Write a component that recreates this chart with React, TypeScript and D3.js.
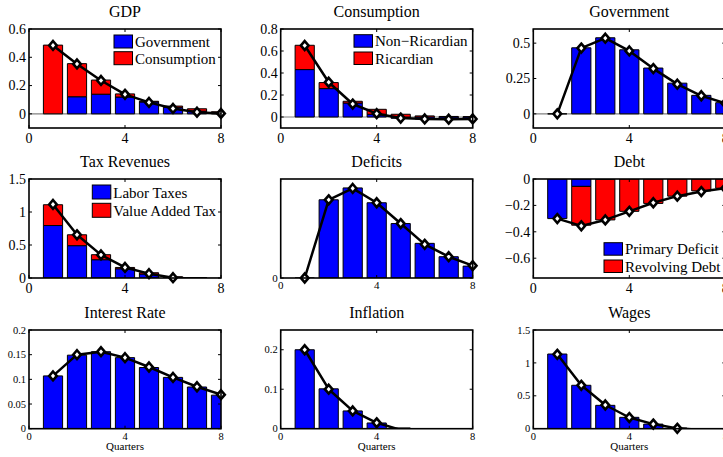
import React from "react";
import * as d3 from "d3";

// Impulse responses over eight quarters
const quarters = [1, 2, 3, 4, 5, 6, 7, 8];
const xTickValues = [0, 4, 8];

const gdpGovernment = [0, 0.121, 0.139, 0.119, 0.084, 0.046, 0.019, 0.006];
const gdpConsumption = [0.486, 0.234, 0.1, 0.022, 0.005, 0.009, 0.017, 0.009];
const gdpTotal = [0.484, 0.353, 0.236, 0.138, 0.081, 0.038, 0.012, 0.003];

const consNonRicardian = [0.431, 0.258, 0.127, 0.025, -0.012, -0.018, -0.02, -0.018];
const consRicardian = [0.221, 0.055, 0.016, 0.045, 0.025, 0.01, 0.005, 0.003];
const consTotal = [0.65, 0.316, 0.118, 0.03, -0.01, -0.018, -0.02, -0.018];

const govSpending = [0, 0.467, 0.538, 0.453, 0.324, 0.217, 0.131, 0.079];
const govTotal = [0, 0.465, 0.535, 0.445, 0.32, 0.21, 0.128, 0.075];

const taxLabor = [0.795, 0.49, 0.277, 0.14, 0.06, 0.01, 0.003, 0];
const taxVat = [0.315, 0.165, 0.076, 0.02, 0.02, 0.008, 0.002, 0];
const taxTotal = [1.115, 0.655, 0.35, 0.16, 0.066, 0.004, -0.012, -0.015];

const deficitBars = [0, 0.79, 0.91, 0.76, 0.55, 0.35, 0.215, 0.12];
const deficitTotal = [0, 0.79, 0.905, 0.76, 0.55, 0.34, 0.215, 0.125];

const debtPrimary = [-0.3, -0.056, -0.003, 0, 0, 0, 0, 0];
const debtRevolving = [0, -0.294, -0.307, -0.245, -0.185, -0.13, -0.09, -0.07];
const debtTotal = [-0.3, -0.355, -0.31, -0.245, -0.18, -0.13, -0.095, -0.07];

const rateBars = [0.107, 0.149, 0.156, 0.144, 0.124, 0.104, 0.0845, 0.068];
const rateTotal = [0.107, 0.15, 0.156, 0.144, 0.125, 0.104, 0.085, 0.069];

const inflationBars = [0.2, 0.101, 0.045, 0.0145, 0.002, 0, 0, 0];
const inflationTotal = [0.2, 0.1, 0.045, 0.015, -0.003, -0.004, -0.004, -0.003];

const wageBars = [1.135, 0.66, 0.355, 0.173, 0.07, 0.01, 0, 0];
const wageTotal = [1.13, 0.66, 0.36, 0.17, 0.07, 0.005, -0.02, -0.02];

const BLUE = "#0000ff";
const RED = "#ff0000";
const FONT = "'Liberation Serif', 'Times New Roman', Times, serif";

const COLS = [29, 280.7, 533.3];
const ROWS = [
  { top: 29, bottom: 128 },
  { top: 179, bottom: 278 },
  { top: 330, bottom: 428.7 },
];
const AX_W = 192;

type Series = { values: number[]; color: string; label?: string };
type PanelCfg = {
  title: string;
  col: number;
  row: number;
  domain: [number, number];
  yTicks: number[];
  yLabels: string[];
  series: Series[];
  line: number[];
  tickSize: number;
  xLabel?: string;
  legend?: { x: number; y: number; dy: number; h: number };
};

const fmtMinus = (s: string) => s.replace("-", "\u2212");

const panels: PanelCfg[] = [
  {
    title: "GDP",
    col: 0,
    row: 0,
    domain: [-0.1, 0.6],
    yTicks: [0, 0.2, 0.4, 0.6],
    yLabels: ["0", "0.2", "0.4", "0.6"],
    series: [
      { values: gdpGovernment, color: BLUE, label: "Government" },
      { values: gdpConsumption, color: RED, label: "Consumption" },
    ],
    line: gdpTotal,
    tickSize: 14,
    legend: { x: 114, y: 35, dy: 16.7, h: 13 },
  },
  {
    title: "Consumption",
    col: 1,
    row: 0,
    domain: [-0.1, 0.8],
    yTicks: [0, 0.2, 0.4, 0.6, 0.8],
    yLabels: ["0", "0.2", "0.4", "0.6", "0.8"],
    series: [
      { values: consNonRicardian, color: BLUE, label: "Non\u2212Ricardian" },
      { values: consRicardian, color: RED, label: "Ricardian" },
    ],
    line: consTotal,
    tickSize: 14,
    legend: { x: 354, y: 34.7, dy: 17.3, h: 12.5 },
  },
  {
    title: "Government",
    col: 2,
    row: 0,
    domain: [-0.1, 0.6],
    yTicks: [0, 0.25, 0.5],
    yLabels: ["0", "0.25", "0.5"],
    series: [{ values: govSpending, color: BLUE }],
    line: govTotal,
    tickSize: 14,
  },
  {
    title: "Tax Revenues",
    col: 0,
    row: 1,
    domain: [0, 1.5],
    yTicks: [0, 0.5, 1, 1.5],
    yLabels: ["0", "0.5", "1", "1.5"],
    series: [
      { values: taxLabor, color: BLUE, label: "Labor Taxes" },
      { values: taxVat, color: RED, label: "Value Added Tax" },
    ],
    line: taxTotal,
    tickSize: 14,
    legend: { x: 92.3, y: 185, dy: 18.3, h: 14 },
  },
  {
    title: "Deficits",
    col: 1,
    row: 1,
    domain: [0, 1],
    yTicks: [0],
    yLabels: ["0"],
    series: [{ values: deficitBars, color: BLUE }],
    line: deficitTotal,
    tickSize: 11,
  },
  {
    title: "Debt",
    col: 2,
    row: 1,
    domain: [-0.75, 0],
    yTicks: [0, -0.2, -0.4, -0.6],
    yLabels: ["0", "-0.2", "-0.4", "-0.6"],
    series: [
      { values: debtPrimary, color: BLUE, label: "Primary Deficit" },
      { values: debtRevolving, color: RED, label: "Revolving Debt" },
    ],
    line: debtTotal,
    tickSize: 14,
    legend: { x: 604, y: 242.7, dy: 17.3, h: 12.5 },
  },
  {
    title: "Interest Rate",
    col: 0,
    row: 2,
    domain: [0, 0.2],
    yTicks: [0, 0.05, 0.1, 0.15, 0.2],
    yLabels: ["0", "0.05", "0.1", "0.15", "0.2"],
    series: [{ values: rateBars, color: BLUE }],
    line: rateTotal,
    tickSize: 10.5,
    xLabel: "Quarters",
  },
  {
    title: "Inflation",
    col: 1,
    row: 2,
    domain: [0, 0.25],
    yTicks: [0, 0.1, 0.2],
    yLabels: ["0", "0.1", "0.2"],
    series: [{ values: inflationBars, color: BLUE }],
    line: inflationTotal,
    tickSize: 10.5,
    xLabel: "Quarters",
  },
  {
    title: "Wages",
    col: 2,
    row: 2,
    domain: [0, 1.5],
    yTicks: [0, 0.5, 1, 1.5],
    yLabels: ["0", "0.5", "1", "1.5"],
    series: [{ values: wageBars, color: BLUE }],
    line: wageTotal,
    tickSize: 10.5,
    xLabel: "Quarters",
  },
];

function diamond(cx: number, cy: number, rx: number, ry: number) {
  return `M${cx},${cy - ry}L${cx + rx},${cy}L${cx},${cy + ry}L${cx - rx},${cy}Z`;
}

function Panel({ cfg, idx }: { cfg: PanelCfg; idx: number }) {
  const left = COLS[cfg.col];
  const { top, bottom } = ROWS[cfg.row];
  const right = left + AX_W;
  const x = d3.scaleLinear().domain([0, 8]).range([left, right]);
  const y = d3.scaleLinear().domain(cfg.domain).range([bottom, top]);

  const keys = cfg.series.map((_, j) => "s" + j);
  const rows = quarters.map((q, i) => {
    const r: Record<string, number> = { q };
    cfg.series.forEach((s, j) => (r["s" + j] = s.values[i]));
    return r;
  });
  const stacked = d3
    .stack<Record<string, number>>()
    .keys(keys)
    .offset(d3.stackOffsetDiverging)(rows);

  const halfBar = 0.4;
  const clipId = `clip-${idx}`;
  const line = d3
    .line<number>()
    .x((_, i) => x(quarters[i]))
    .y((v) => y(v));

  const [d0, d1] = cfg.domain;
  const eps = (d1 - d0) * 0.005;
  const tickLen = 3;
  const xTickDy = cfg.tickSize >= 13 ? 15 : 11;
  const centerX = (left + right) / 2;

  return (
    <g>
      <defs>
        <clipPath id={clipId}>
          <rect x={left} y={top} width={AX_W} height={bottom - top} />
        </clipPath>
      </defs>
      <rect x={left} y={top} width={AX_W} height={bottom - top} fill="#fff" />
      <g clipPath={`url(#${clipId})`}>
        {d0 < 0 && d1 > 0 && (
          <line x1={left} x2={right} y1={y(0)} y2={y(0)} stroke="#808080" strokeWidth={1.2} />
        )}
        {stacked.map((layer, j) =>
          layer.map((seg, i) => {
            const x0 = x(quarters[i] - halfBar);
            const x1 = x(quarters[i] + halfBar);
            const ya = y(seg[0]);
            const yb = y(seg[1]);
            const singleZero = cfg.series.length === 1 && cfg.series[j].values[i] === 0;
            if (seg[0] === seg[1] && !singleZero) return null;
            return (
              <path
                key={`${j}-${i}`}
                d={`M${x0},${ya}L${x0},${yb}L${x1},${yb}L${x1},${ya}Z`}
                fill={cfg.series[j].color}
                stroke="#000"
                strokeWidth={1}
              />
            );
          })
        )}
        <path d={line(cfg.line) || ""} fill="none" stroke="#000" strokeWidth={2.5} strokeLinejoin="round" />
      </g>
      {cfg.line.map((v, i) =>
        v >= d0 - eps && v <= d1 + eps ? (
          <path
            key={"m" + i}
            d={diamond(x(quarters[i]), y(v), 3.8, 4.4)}
            fill="#fff"
            stroke="#000"
            strokeWidth={2.6}
            strokeLinejoin="miter"
          />
        ) : null
      )}
      {/* axes frame with inward ticks on all sides */}
      <rect x={left} y={top} width={AX_W} height={bottom - top} fill="none" stroke="#000" strokeWidth={1.6} />
      {xTickValues.map((t) => (
        <g key={"xt" + t}>
          <line x1={x(t)} x2={x(t)} y1={bottom} y2={bottom - tickLen} stroke="#000" />
          <line x1={x(t)} x2={x(t)} y1={top} y2={top + tickLen} stroke="#000" />
          <text
            x={x(t)}
            y={bottom + xTickDy}
            textAnchor="middle"
            fontSize={cfg.tickSize}
            fontFamily={FONT}
          >
            {t}
          </text>
        </g>
      ))}
      {cfg.yTicks.map((t, k) => (
        <g key={"yt" + t}>
          <line x1={left} x2={left + tickLen} y1={y(t)} y2={y(t)} stroke="#000" />
          <line x1={right} x2={right - tickLen} y1={y(t)} y2={y(t)} stroke="#000" />
          <text
            x={left - 3}
            y={y(t)}
            dy="0.35em"
            textAnchor="end"
            fontSize={cfg.tickSize}
            fontFamily={FONT}
          >
            {fmtMinus(cfg.yLabels[k])}
          </text>
        </g>
      ))}
      <text x={centerX} y={top - 12} textAnchor="middle" fontSize={16} fontFamily={FONT}>
        {cfg.title}
      </text>
      {cfg.xLabel && (
        <text x={centerX} y={bottom + 21.5} textAnchor="middle" fontSize={11} fontFamily={FONT}>
          {cfg.xLabel}
        </text>
      )}
      {cfg.legend &&
        cfg.series.map((s, j) => {
          const lg = cfg.legend!;
          const py = lg.y + j * lg.dy;
          return (
            <g key={"lg" + j}>
              <rect x={lg.x} y={py} width={18.5} height={lg.h} fill={s.color} stroke="#000" strokeWidth={1} />
              <text x={lg.x + 21} y={py + lg.h - 1} fontSize={15} fontFamily={FONT}>
                {s.label}
              </text>
            </g>
          );
        })}
    </g>
  );
}

export default function App() {
  return (
    <svg
      width={723}
      height={457}
      style={{ position: "absolute", left: 0, top: 0, background: "#fff" }}
    >
      <rect width={723} height={457} fill="#fff" />
      {panels.map((p, i) => (
        <Panel key={p.title} cfg={p} idx={i} />
      ))}
    </svg>
  );
}
